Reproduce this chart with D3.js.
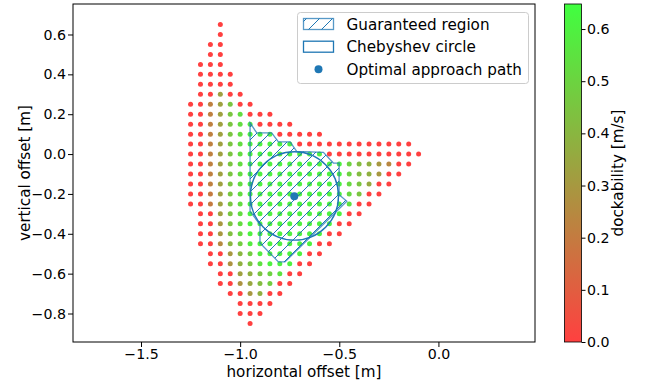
<!DOCTYPE html>
<html><head><meta charset="utf-8">
<script src="https://cdn.jsdelivr.net/npm/d3@7"></script>
<style>body{margin:0;background:#fff}svg{display:block;font-family:"DejaVu Sans",sans-serif}</style>
</head><body><svg id="c" width="648" height="384"></svg>
<script>
// ---- data ----
const gridStep = 0.05;
const rowY = [0.65,0.60,0.55,0.50,0.45,0.40,0.35,0.30,0.25,0.20,0.15,0.10,0.05,0.00,-0.05,-0.10,-0.15,-0.20,-0.25,-0.30,-0.35,-0.40,-0.45,-0.50,-0.55,-0.60,-0.65,-0.70,-0.75,-0.80,-0.85];
const rowStartX = [-1.10,-1.10,-1.15,-1.15,-1.20,-1.20,-1.20,-1.20,-1.25,-1.25,-1.25,-1.25,-1.25,-1.25,-1.25,-1.25,-1.25,-1.25,-1.25,-1.20,-1.20,-1.20,-1.20,-1.15,-1.15,-1.10,-1.10,-1.05,-1.00,-1.00,-0.95];
const rowValues = [
  [0],
  [0],
  [0,0],
  [0,0],
  [0,0,0],
  [0,0,0,0],
  [0,0,0,0],
  [0,0,0.33,0,0],
  [0,0,0.22,0.33,0.45,0,0],
  [0,0,0.22,0.33,0.45,0.53,0,0,0],
  [0,0,0.22,0.33,0.45,0.53,0.58,0,0,0,0],
  [0,0,0.22,0.33,0.45,0.53,0.6,0.6,0.6,0,0,0,0,0],
  [0,0,0.22,0.33,0.45,0.53,0.6,0.6,0.6,0.6,0.6,0,0,0,0,0,0,0,0,0,0,0,0],
  [0,0,0.22,0.33,0.45,0.53,0.6,0.6,0.6,0.6,0.6,0.6,0.6,0.6,0,0,0,0,0,0,0,0,0,0],
  [0,0,0.22,0.33,0.45,0.53,0.6,0.6,0.6,0.6,0.6,0.6,0.6,0.6,0.6,0.6,0.5,0.42,0.38,0.3,0.24,0,0],
  [0,0,0.22,0.33,0.45,0.53,0.6,0.6,0.6,0.6,0.6,0.6,0.6,0.6,0.6,0.6,0.5,0.42,0.38,0.3,0,0],
  [0,0,0.22,0.33,0.45,0.53,0.6,0.6,0.6,0.6,0.6,0.6,0.6,0.6,0.6,0.6,0.52,0.45,0.36,0,0],
  [0,0,0.2,0.33,0.45,0.53,0.6,0.6,0.6,0.6,0.6,0.6,0.6,0.6,0.6,0.6,0.52,0.45,0,0],
  [0,0,0.2,0.33,0.45,0.53,0.6,0.6,0.6,0.6,0.6,0.6,0.6,0.6,0.6,0.6,0.55,0,0],
  [0,0,0.33,0.45,0.53,0.6,0.6,0.6,0.6,0.6,0.6,0.6,0.6,0.6,0.6,0,0],
  [0,0,0.3,0.45,0.53,0.6,0.6,0.6,0.6,0.6,0.6,0.6,0.6,0.6,0,0],
  [0,0,0.3,0.43,0.52,0.6,0.6,0.6,0.6,0.6,0.6,0.6,0.6,0,0],
  [0,0,0.25,0.4,0.48,0.58,0.6,0.6,0.6,0.6,0.6,0.6,0,0],
  [0,0,0.3,0.4,0.48,0.58,0.6,0.6,0.6,0.6,0,0],
  [0,0,0.28,0.38,0.45,0.55,0.6,0.6,0.6,0,0],
  [0,0,0.33,0.38,0.45,0.5,0.55,0,0],
  [0,0,0.28,0.35,0.42,0.48,0,0],
  [0,0,0.3,0.38,0,0],
  [0,0,0,0],
  [0,0,0],
  [0]
];
const regionX = [-0.950,-0.916,-0.841,-0.807,-0.748,-0.715,-0.580,-0.530,-0.501,-0.501,-0.462,-0.774,-0.807,-0.900,-0.900,-0.950];
const regionY = [0.156,0.106,0.106,0.061,0.061,0.014,0.009,-0.045,-0.045,-0.204,-0.237,-0.541,-0.541,-0.446,-0.354,-0.287];
const circleCenter = [-0.726,-0.210];
const circleRadius = 0.222;
const optimalPoint = [-0.727,-0.212];
const xTicks = [-1.5,-1.0,-0.5,0.0];
const yTicks = [0.6,0.4,0.2,0.0,-0.2,-0.4,-0.6,-0.8];
const cbTicks = [0.0,0.1,0.2,0.3,0.4,0.5,0.6];
const legendLabels = ["Guaranteed region","Chebyshev circle","Optimal approach path"];
const xLabel = "horizontal offset [m]";
const yLabel = "vertical offset [m]";
const cbLabel = "dockability [m/s]";

// ---- drawing ----
const svg = d3.select("#c");
const blue = "#1f77b4";
const L=73, R=535, T=4, B=342;
const x = d3.scaleLinear().domain([-1.843,0.487]).range([L,R]);
const y = d3.scaleLinear().domain([-0.943,0.753]).range([B,T]);
const vmax = 0.648;
const color = d3.scaleLinear().domain([0,vmax]).range(["rgb(255,64,64)","rgb(64,255,64)"]).interpolate(d3.interpolateRgb);
const fmt = d => d3.format(".1f")(d).replace("-", "\u2212");
const tickFont = 14.2, labFont = 15.2;

const defs = svg.append("defs");
const hs = 13;
const pat = defs.append("pattern").attr("id","hatch").attr("patternUnits","userSpaceOnUse")
  .attr("width",hs).attr("height",hs);
pat.append("path").attr("d",`M0,${hs} L${hs},0 M-3,3 L3,-3 M${hs-3},${hs+3} L${hs+3},${hs-3}`)
  .attr("stroke",blue).attr("stroke-width",1);
const grad = defs.append("linearGradient").attr("id","cbg").attr("x1",0).attr("y1",1).attr("x2",0).attr("y2",0);
grad.append("stop").attr("offset","0%").attr("stop-color",color(0));
grad.append("stop").attr("offset","100%").attr("stop-color",color(vmax));
defs.append("clipPath").attr("id","clip").append("rect").attr("x",L).attr("y",T).attr("width",R-L).attr("height",B-T);

// points
const pts = [];
rowY.forEach((yy,i)=>{ rowValues[i].forEach((v,j)=>{ pts.push({x: rowStartX[i]+j*gridStep, y: yy, v}); }); });
const g = svg.append("g").attr("clip-path","url(#clip)");
g.selectAll("circle.pt").data(pts).join("circle").attr("class","pt")
  .attr("cx",d=>x(d.x)).attr("cy",d=>y(d.y)).attr("r",2.5).attr("fill",d=>color(d.v));

// region polygon
const poly = regionX.map((v,i)=>[x(v),y(regionY[i])]);
g.append("path").attr("d","M"+poly.join("L")+"Z").attr("fill","url(#hatch)")
  .attr("stroke",blue).attr("stroke-width",1.3).attr("stroke-opacity",0.75);
// chebyshev circle
g.append("ellipse").attr("cx",x(circleCenter[0])).attr("cy",y(circleCenter[1]))
  .attr("rx",x(circleRadius)-x(0)).attr("ry",y(0)-y(circleRadius))
  .attr("fill","none").attr("stroke",blue).attr("stroke-width",1.4);
g.append("circle").attr("cx",x(optimalPoint[0])).attr("cy",y(optimalPoint[1])).attr("r",4).attr("fill",blue);

// frame
svg.append("rect").attr("x",L).attr("y",T).attr("width",R-L).attr("height",B-T).attr("fill","none").attr("stroke","#000").attr("stroke-width",1);

// axes
const xa = svg.append("g").attr("transform",`translate(0,${B})`).call(d3.axisBottom(x).tickValues(xTicks).tickFormat(fmt).tickSize(5).tickPadding(1.5));
const ya = svg.append("g").attr("transform",`translate(${L},0)`).call(d3.axisLeft(y).tickValues(yTicks).tickFormat(fmt).tickSize(5).tickPadding(2));
[xa,ya].forEach(a=>{a.select(".domain").remove(); a.selectAll("text").attr("font-size",tickFont).attr("font-family","DejaVu Sans").attr("fill","#000"); a.selectAll("line").attr("stroke","#000").attr("stroke-width",1);});

svg.append("text").attr("x",(L+R)/2).attr("y",377).attr("text-anchor","middle").attr("font-size",labFont).text(xLabel);
svg.append("text").attr("transform",`translate(30,${(T+B)/2}) rotate(-90)`).attr("text-anchor","middle").attr("font-size",labFont).text(yLabel);

// legend
const lg = svg.append("g");
lg.append("rect").attr("x",297.5).attr("y",12.5).attr("width",231).attr("height",71).attr("rx",3)
  .attr("fill","#fff").attr("fill-opacity",0.8).attr("stroke","#cccccc").attr("stroke-width",1);
const rowsY = [24,46.7,69.3];
lg.append("rect").attr("x",303.5).attr("y",rowsY[0]-5.5).attr("width",30).attr("height",11)
  .attr("fill","url(#hatch)").attr("stroke",blue).attr("stroke-width",1.3).attr("stroke-opacity",0.75);
lg.append("rect").attr("x",303.5).attr("y",rowsY[1]-5.5).attr("width",30).attr("height",11)
  .attr("fill","none").attr("stroke",blue).attr("stroke-width",1.3);
lg.append("circle").attr("cx",318.5).attr("cy",rowsY[2]).attr("r",4).attr("fill",blue);
legendLabels.forEach((t,i)=>lg.append("text").attr("x",346.5).attr("y",rowsY[i]+5.5).attr("font-size",labFont).text(t));

// colorbar
const cbL=564.5, cbR=581.5;
const cy = d3.scaleLinear().domain([0,vmax]).range([B,T]);
svg.append("rect").attr("x",cbL).attr("y",T).attr("width",cbR-cbL).attr("height",B-T).attr("fill","url(#cbg)").attr("stroke","#000").attr("stroke-width",0.8);
const ca = svg.append("g").attr("transform",`translate(${cbR},0)`).call(d3.axisRight(cy).tickValues(cbTicks).tickFormat(fmt).tickSize(4).tickPadding(1.5));
ca.select(".domain").remove();
ca.selectAll("text").attr("font-size",tickFont).attr("font-family","DejaVu Sans").attr("fill","#000");
ca.selectAll("line").attr("stroke","#000");
svg.append("text").attr("transform",`translate(623,${(T+B)/2}) rotate(-90)`).attr("text-anchor","middle").attr("font-size",labFont).text(cbLabel);
</script></body></html>
